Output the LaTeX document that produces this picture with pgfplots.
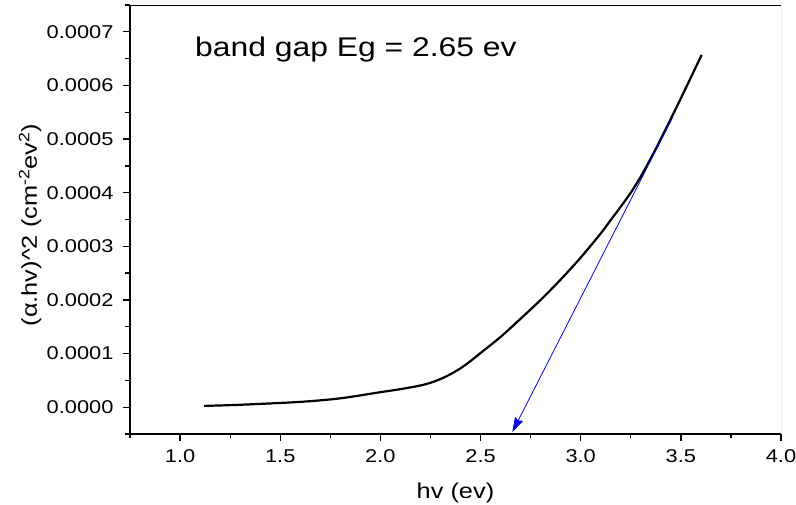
\documentclass[border=0pt]{standalone}
\usepackage{pgfplots}
\pgfplotsset{compat=1.18}
\usepackage{fontspec}
\setmainfont{Liberation Sans}[FakeStretch=1.18]
\usetikzlibrary{arrows.meta}
\begin{document}
\begin{tikzpicture}
\begin{axis}[
  scale only axis, width=651pt, height=429pt,
  xmin=0.75, xmax=4.0, ymin=-0.00005, ymax=0.00075,
  axis lines=left,
  axis line style={-, line width=1.5pt, black},
  xtick={1,1.5,2,2.5,3,3.5,4},
  minor xtick={0.75,1.25,1.75,2.25,2.75,3.25,3.75},
  ytick={0,0.0001,0.0002,0.0003,0.0004,0.0005,0.0006,0.0007},
  minor ytick={-0.00005,0.00005,0.00015,0.00025,0.00035,0.00045,0.00055,0.00065,0.00075},
  tick align=outside,
  major tick length=7pt, minor tick length=4.5pt,
  every tick/.style={black, line width=1.3pt},
  scaled y ticks=false, scaled x ticks=false,
  /pgf/number format/assume math mode=true,
  xticklabel style={/pgf/number format/.cd, fixed, fixed zerofill, precision=1, /tikz/.cd, yshift=-5pt},
  yticklabel style={/pgf/number format/.cd, fixed, fixed zerofill, precision=4, /tikz/.cd, xshift=-6pt},
  tick label style={font=\fontsize{18.5}{20}\selectfont},
  label style={font=\fontsize{21.5}{24}\selectfont},
  xlabel={hv (ev)},
  ylabel={(α.hv)\textasciicircum 2 (cm\textsuperscript{-2}ev\textsuperscript{2})},
  xlabel style={at={(axis description cs:0.5,-0.137)}, anchor=center},
  ylabel style={at={(axis description cs:-0.1536,0.487)}, anchor=center},
]
\coordinate (SW) at (rel axis cs:0,0);
\draw[black, line width=0.9pt] (rel axis cs:0,1) -- (rel axis cs:1,1);
\draw[black!55, line width=1pt] (rel axis cs:1,0) -- (rel axis cs:1,1);
\addplot[black, line width=2.2pt, smooth] coordinates {
(1.12,0.0000024) (1.30,0.0000045) (1.60,0.0000099) (1.80,0.0000165)
(2.00,0.0000280) (2.10,0.0000336) (2.20,0.0000405) (2.25,0.0000455)
(2.30,0.0000525) (2.35,0.0000615) (2.40,0.0000725) (2.45,0.0000860)
(2.50,0.0001010) (2.60,0.0001310) (2.70,0.0001650) (2.80,0.0002000)
(2.90,0.0002380) (3.00,0.0002790) (3.10,0.0003240) (3.15,0.0003490)
(3.20,0.0003740) (3.25,0.0004000) (3.30,0.0004300) (3.35,0.0004640)
(3.40,0.0005000) (3.50,0.0005760) (3.604,0.0006570)
};
\addplot[blue, line width=0.8pt, -{Stealth[length=15pt,width=9pt,inset=2pt]}] coordinates {
(3.46,0.000541) (2.6585,-0.0000466)
};
\node[anchor=base west, inner sep=0pt, font=\fontsize{27}{30}\selectfont] at (rel axis cs:0.0998,0.881) {band gap Eg = 2.65 ev};
\end{axis}
\pgfresetboundingbox
\path[use as bounding box] ([shift={(-130pt,-71pt)}]SW) rectangle ([shift={(666pt,434pt)}]SW);
\end{tikzpicture}
\end{document}
